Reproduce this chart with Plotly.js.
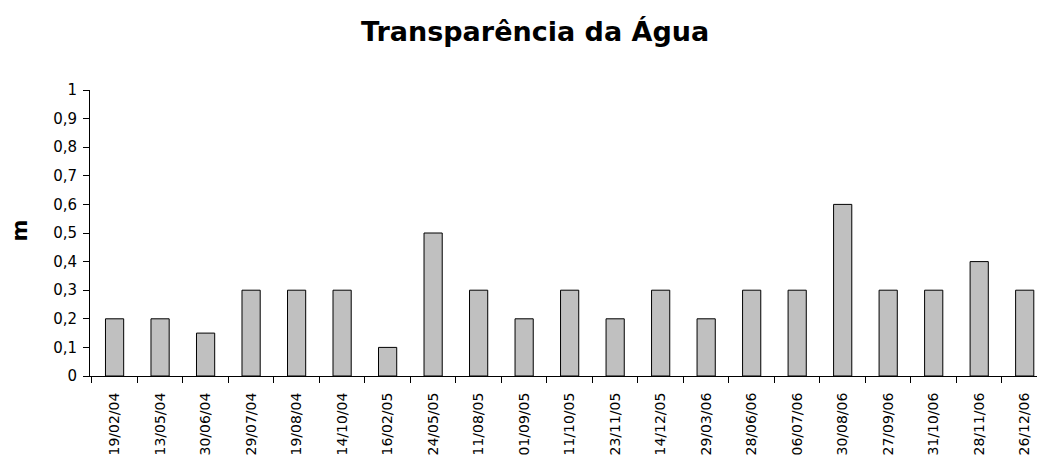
<!DOCTYPE html>
<html><head><meta charset="utf-8">
<script src="https://cdn.plot.ly/plotly-3.0.1.min.js"></script>
<style>html,body{margin:0;padding:0;background:#fff;}#chart{width:1037px;height:459px;}</style>
</head><body><div id="chart"></div>
<script>
const categories = ["19/02/04","13/05/04","30/06/04","29/07/04","19/08/04","14/10/04","16/02/05","24/05/05","11/08/05","01/09/05","11/10/05","23/11/05","14/12/05","29/03/06","28/06/06","06/07/06","30/08/06","27/09/06","31/10/06","28/11/06","26/12/06"];
const values = [0.2,0.2,0.15,0.3,0.3,0.3,0.1,0.5,0.3,0.2,0.3,0.2,0.3,0.2,0.3,0.3,0.6,0.3,0.3,0.4,0.3];
const yTickVals = [0,0.1,0.2,0.3,0.4,0.5,0.6,0.7,0.8,0.9,1];
const yTickText = ["0","0,1","0,2","0,3","0,4","0,5","0,6","0,7","0,8","0,9","1"];
const yAxisLabel = "m";

const FONT = "DejaVu Sans, Verdana, sans-serif";
const trace = {
  type: "bar",
  x: categories,
  y: values,
  marker: {color: "#c0c0c0", line: {color: "#000", width: 1}},
  hoverinfo: "x+y"
};
const layout = {
  width: 1037, height: 459,
  margin: {l: 90, r: 0, t: 90, b: 83},
  paper_bgcolor: "#fff", plot_bgcolor: "#fff",
  bargap: 0.6,
  showlegend: false,
  font: {family: FONT, color: "#000", size: 14},
  title: {text: "<b>Transparência da Água</b>", font: {size: 27, family: FONT}, x: 0.516, xanchor: "center", y: 0.932, yanchor: "middle"},
  xaxis: {
    type: "category",
    range: [-0.54, 20.27],
    showline: true, linecolor: "#000", linewidth: 1,
    ticks: "outside", ticklen: 6, tickcolor: "#000", tickson: "boundaries",
    tickangle: -90, tickfont: {size: 14, family: FONT},
    ticklabelstandoff: 10,
    showgrid: false, zeroline: false,
    fixedrange: true
  },
  yaxis: {
    range: [0, 1],
    tickvals: yTickVals, ticktext: yTickText,
    showline: true, linecolor: "#000", linewidth: 1,
    ticks: "outside", ticklen: 6, tickcolor: "#000",
    tickfont: {size: 15, family: FONT},
    ticklabelstandoff: 3,
    showgrid: false, zeroline: false,
    fixedrange: true
  },
  annotations: [{
    text: "<b>" + yAxisLabel + "</b>",
    xref: "paper", yref: "paper",
    x: -0.0744, y: 0.507, xanchor: "center", yanchor: "middle",
    textangle: -90, showarrow: false,
    font: {size: 21, family: FONT, color: "#000"}
  }]
};
Plotly.newPlot("chart", [trace], layout, {displayModeBar: false, staticPlot: true});
</script></body></html>
